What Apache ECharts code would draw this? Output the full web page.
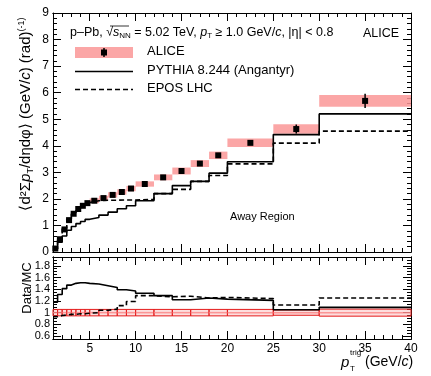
<!DOCTYPE html>
<html>
<head>
<meta charset="utf-8">
<script src="https://cdn.jsdelivr.net/npm/echarts@6/dist/echarts.min.js"></script>
<style>
  html, body { margin: 0; padding: 0; background: #fff; }
  #chart { width: 431px; height: 376px; }
</style>
</head>
<body>
<div id="chart"></div>
<script>
// bin edges of p_T^trig (GeV/c)
const binEdges = [1, 1.5, 2, 2.5, 3, 3.5, 4, 4.5, 5, 6, 7, 8, 9, 10, 12, 14, 16, 18, 20, 25, 30, 40];

// ALICE data
const aliceValues = [0.13, 0.48, 0.85, 1.20, 1.44, 1.62, 1.74, 1.84, 1.93, 2.03, 2.15, 2.26, 2.39, 2.56, 2.81, 3.05, 3.33, 3.64, 4.11, 4.63, 5.69];
const aliceStat = [0.02, 0.02, 0.02, 0.02, 0.02, 0.02, 0.02, 0.02, 0.02, 0.02, 0.02, 0.03, 0.03, 0.03, 0.04, 0.05, 0.06, 0.07, 0.08, 0.17, 0.27];
const aliceSyst = [0.03, 0.04, 0.05, 0.06, 0.07, 0.07, 0.08, 0.08, 0.09, 0.09, 0.10, 0.10, 0.10, 0.10, 0.11, 0.13, 0.13, 0.14, 0.16, 0.18, 0.22];

// MC predictions
const pythiaValues = [0.11, 0.37, 0.60, 0.82, 0.96, 1.07, 1.15, 1.23, 1.30, 1.39, 1.50, 1.63, 1.74, 1.93, 2.20, 2.50, 2.66, 2.97, 3.40, 4.42, 5.20];
const eposValues = [0.14, 0.50, 0.89, 1.24, 1.48, 1.65, 1.77, 1.86, 1.93, 1.95, 1.95, 1.96, 1.96, 1.98, 2.20, 2.36, 2.66, 2.88, 3.32, 4.10, 4.55];

// ratio panel (Data/MC)
const pythiaRatio = [1.18, 1.31, 1.41, 1.47, 1.50, 1.51, 1.51, 1.50, 1.49, 1.46, 1.43, 1.39, 1.37, 1.33, 1.29, 1.22, 1.25, 1.23, 1.21, 1.05, 1.09];
const eposRatio = [0.93, 0.95, 0.96, 0.97, 0.97, 0.98, 0.98, 0.99, 1.00, 1.04, 1.06, 1.12, 1.19, 1.29, 1.27, 1.28, 1.25, 1.26, 1.24, 1.13, 1.25];
const ratioSyst = [0.055, 0.055, 0.055, 0.055, 0.055, 0.055, 0.055, 0.055, 0.055, 0.055, 0.055, 0.055, 0.055, 0.055, 0.055, 0.055, 0.055, 0.055, 0.055, 0.045, 0.06];

// tick values
const xMajorTicks = [5, 10, 15, 20, 25, 30, 35, 40];
const xMinorTicks = [2, 3, 4, 6, 7, 8, 9, 11, 12, 13, 14, 16, 17, 18, 19, 21, 22, 23, 24, 26, 27, 28, 29, 31, 32, 33, 34, 36, 37, 38, 39];
const ratioMajorTicks = [0.6, 0.8, 1.0, 1.2, 1.4, 1.6, 1.8];
const ratioMinorTicks = [0.55, 0.65, 0.7, 0.75, 0.85, 0.9, 0.95, 1.05, 1.1, 1.15, 1.25, 1.3, 1.35, 1.45, 1.5, 1.55, 1.65, 1.7, 1.75, 1.85, 1.9];

const FONT = "'Liberation Sans', Arial, sans-serif";
const BLACK = "#000";

// histogram -> step line points
function stepPoints(vals) {
  const pts = [];
  vals.forEach((v, i) => {
    pts.push([binEdges[i], v]);
    pts.push([binEdges[i + 1], v]);
  });
  return pts;
}

const bins = aliceValues.map((v, i) => ({ lo: binEdges[i], hi: binEdges[i + 1], v: v }));

// axis helpers
function xAx(grid, pos, ticks, len, labels) {
  return {
    type: "value", gridIndex: grid, position: pos, min: 1, max: 40,
    axisLine: { show: true, onZero: false, lineStyle: { color: BLACK, width: 1 } },
    axisTick: { show: true, inside: true, length: len, customValues: ticks, lineStyle: { color: BLACK } },
    axisLabel: labels
      ? { show: true, customValues: ticks, color: BLACK, fontSize: 12, fontFamily: FONT, margin: 4 }
      : { show: false },
    splitLine: { show: false },
  };
}
function yRatio(pos, ticks, len, labels) {
  return {
    type: "value", gridIndex: 1, position: pos, min: 0.55, max: 1.95,
    axisLine: { show: true, onZero: false, lineStyle: { color: BLACK, width: 1 } },
    axisTick: { show: true, inside: true, length: len, customValues: ticks, lineStyle: { color: BLACK } },
    axisLabel: labels
      ? { show: true, customValues: ticks, color: BLACK, fontSize: 11, fontFamily: FONT, margin: 3,
          formatter: (v) => (Math.abs(v - 1) < 1e-6 ? "1" : v.toFixed(1)) }
      : { show: false },
    splitLine: { show: false },
  };
}
function yTop(pos, labels) {
  return {
    type: "value", gridIndex: 0, position: pos, min: 0, max: 9, interval: 1,
    axisLine: { show: true, onZero: false, lineStyle: { color: BLACK, width: 1 } },
    axisTick: { show: true, inside: true, length: 8, lineStyle: { color: BLACK } },
    minorTick: { show: true, splitNumber: 5, length: 4, lineStyle: { color: BLACK } },
    axisLabel: { show: labels, color: BLACK, fontSize: 12, fontFamily: FONT, margin: 4 },
    splitLine: { show: false },
  };
}

const option = {
  animation: false,
  backgroundColor: "#fff",
  grid: [
    { left: 53, top: 13, width: 358, height: 239 },
    { left: 53, top: 257, width: 358, height: 82 },
  ],
  xAxis: [
    xAx(0, "bottom", xMajorTicks, 8, false),
    xAx(0, "top", xMajorTicks, 8, false),
    xAx(0, "bottom", xMinorTicks, 4, false),
    xAx(0, "top", xMinorTicks, 4, false),
    xAx(1, "bottom", xMajorTicks, 8, true), // 4: ratio panel, labelled
    xAx(1, "top", xMajorTicks, 8, false),
    xAx(1, "bottom", xMinorTicks, 4, false),
    xAx(1, "top", xMinorTicks, 4, false),
  ],
  yAxis: [
    yTop("left", true),
    yTop("right", false),
    yRatio("left", ratioMajorTicks, 8, true), // 2: ratio panel, labelled
    yRatio("right", ratioMajorTicks, 8, false),
    yRatio("left", ratioMinorTicks, 4, false),
    yRatio("right", ratioMinorTicks, 4, false),
  ],
  series: [
    // ALICE systematic bands
    {
      type: "custom", xAxisIndex: 0, yAxisIndex: 0, z: 1,
      data: bins.map((b, i) => [b.lo, b.hi, b.v, aliceSyst[i]]),
      renderItem: (params, api) => {
        const p1 = api.coord([api.value(0), api.value(2) + api.value(3)]);
        const p2 = api.coord([api.value(1), api.value(2) - api.value(3)]);
        return {
          type: "rect",
          shape: { x: p1[0], y: p1[1], width: p2[0] - p1[0], height: p2[1] - p1[1] },
          style: { fill: "rgba(250, 150, 150, 0.85)" },
        };
      },
    },
    // PYTHIA
    {
      type: "line", xAxisIndex: 0, yAxisIndex: 0, z: 3, symbol: "none",
      data: stepPoints(pythiaValues),
      lineStyle: { color: BLACK, width: 1.6 },
    },
    // EPOS
    {
      type: "line", xAxisIndex: 0, yAxisIndex: 0, z: 3, symbol: "none",
      data: stepPoints(eposValues),
      lineStyle: { color: BLACK, width: 1.6, type: [5, 3] },
    },
    // ALICE points with stat errors
    {
      type: "custom", xAxisIndex: 0, yAxisIndex: 0, z: 5,
      data: bins.map((b, i) => [(b.lo + b.hi) / 2, b.v, aliceStat[i]]),
      renderItem: (params, api) => {
        const c = api.coord([api.value(0), api.value(1)]);
        const top = api.coord([api.value(0), api.value(1) + api.value(2)]);
        const bot = api.coord([api.value(0), api.value(1) - api.value(2)]);
        return {
          type: "group",
          children: [
            { type: "line", shape: { x1: c[0], y1: top[1], x2: c[0], y2: bot[1] }, style: { stroke: BLACK, lineWidth: 1.5 } },
            { type: "rect", shape: { x: c[0] - 3, y: c[1] - 3, width: 6, height: 6 }, style: { fill: BLACK } },
          ],
        };
      },
    },
    // ratio boxes
    {
      type: "custom", xAxisIndex: 4, yAxisIndex: 2, z: 1,
      data: bins.map((b, i) => [b.lo, b.hi, ratioSyst[i]]),
      renderItem: (params, api) => {
        const p1 = api.coord([api.value(0), 1 + api.value(2)]);
        const p2 = api.coord([api.value(1), 1 - api.value(2)]);
        const m1 = api.coord([api.value(0), 1]);
        const m2 = api.coord([api.value(1), 1]);
        return {
          type: "group",
          children: [
            {
              type: "rect",
              shape: { x: p1[0], y: p1[1], width: p2[0] - p1[0], height: p2[1] - p1[1] },
              style: { fill: "rgba(250, 160, 160, 0.35)", stroke: "#e41b1b", lineWidth: 1 },
            },
            { type: "line", shape: { x1: m1[0], y1: m1[1], x2: m2[0], y2: m2[1] }, style: { stroke: "rgba(250, 130, 130, 0.8)", lineWidth: 1.5 } },
          ],
        };
      },
    },
    {
      type: "line", xAxisIndex: 4, yAxisIndex: 2, z: 3, symbol: "none",
      data: stepPoints(pythiaRatio),
      lineStyle: { color: BLACK, width: 1.6 },
    },
    {
      type: "line", xAxisIndex: 4, yAxisIndex: 2, z: 3, symbol: "none",
      data: stepPoints(eposRatio),
      lineStyle: { color: BLACK, width: 1.6, type: [5, 3] },
    },
  ],
  graphic: [
    // header
    {
      type: "text", left: 70, top: 26, z: 10,
      style: {
        text: "p–Pb, √{it|s}{sub|NN} = 5.02 TeV, {it|p}{sub|T} ≥ 1.0 GeV/{it|c}, |η| < 0.8",
        font: "12.5px " + FONT, fill: BLACK,
        rich: {
          it: { fontStyle: "italic", fontSize: 12.5, fontFamily: FONT },
          sub: { fontSize: 8, fontFamily: FONT, verticalAlign: "bottom", padding: [6, 0, 0, 0] },
        },
      },
    },
    { type: "line", z: 10, shape: { x1: 110, y1: 26, x2: 129, y2: 26 }, style: { stroke: BLACK, lineWidth: 0.8 } },
    { type: "text", left: 363, top: 27, z: 10, style: { text: "ALICE", font: "12.5px " + FONT, fill: BLACK } },
    // legend
    { type: "rect", z: 10, shape: { x: 75, y: 47, width: 58, height: 11 }, style: { fill: "rgba(250, 150, 150, 0.85)" } },
    { type: "line", z: 11, shape: { x1: 104, y1: 48, x2: 104, y2: 57 }, style: { stroke: BLACK, lineWidth: 1.5 } },
    { type: "rect", z: 11, shape: { x: 101, y: 49.5, width: 6, height: 6 }, style: { fill: BLACK } },
    { type: "text", left: 147, top: 45, z: 10, style: { text: "ALICE", font: "13px " + FONT, fill: BLACK } },
    { type: "line", z: 10, shape: { x1: 75, y1: 71.5, x2: 133, y2: 71.5 }, style: { stroke: BLACK, lineWidth: 1.6 } },
    { type: "text", left: 147, top: 64, z: 10, style: { text: "PYTHIA 8.244 (Angantyr)", font: "13px " + FONT, fill: BLACK } },
    { type: "line", z: 10, shape: { x1: 75, y1: 89.5, x2: 133, y2: 89.5 }, style: { stroke: BLACK, lineWidth: 1.6, lineDash: [5, 3] } },
    { type: "text", left: 147, top: 82, z: 10, style: { text: "EPOS LHC", font: "13px " + FONT, fill: BLACK } },
    { type: "text", left: 230, top: 211, z: 10, style: { text: "Away Region", font: "11px " + FONT, fill: BLACK } },
    // y titles
    {
      type: "text", x: 26, y: 114, rotation: Math.PI / 2, z: 10,
      style: {
        text: "⟨d²Σ{it|p}{sub|T}/dηdφ⟩ (GeV/{it|c}) (rad){sup|(-1)}",
        font: "15px " + FONT, fill: BLACK, align: "center", verticalAlign: "middle",
        rich: {
          it: { fontStyle: "italic", fontSize: 15, fontFamily: FONT },
          sub: { fontSize: 9, fontFamily: FONT, verticalAlign: "bottom", padding: [8, 0, 0, 0] },
          sup: { fontSize: 9, fontFamily: FONT, verticalAlign: "top", padding: [0, 0, 9, 0] },
        },
      },
    },
    {
      type: "text", x: 27, y: 288, rotation: Math.PI / 2, z: 10,
      style: { text: "Data/MC", font: "13px " + FONT, fill: BLACK, align: "center", verticalAlign: "middle" },
    },
    // x title
    { type: "text", left: 341, top: 355, z: 10, style: { text: "p", font: "italic 15px " + FONT, fill: BLACK } },
    { type: "text", left: 350, top: 349, z: 10, style: { text: "trig", font: "8px " + FONT, fill: BLACK } },
    { type: "text", left: 350, top: 365, z: 10, style: { text: "T", font: "8px " + FONT, fill: BLACK } },
    {
      type: "text", left: 365, top: 355, z: 10,
      style: {
        text: "(GeV/{it|c})", font: "14px " + FONT, fill: BLACK,
        rich: { it: { fontStyle: "italic", fontSize: 14, fontFamily: FONT } },
      },
    },
  ],
};

const chart = echarts.init(document.getElementById("chart"), null, { renderer: "canvas" });
chart.setOption(option);
</script>
</body>
</html>
